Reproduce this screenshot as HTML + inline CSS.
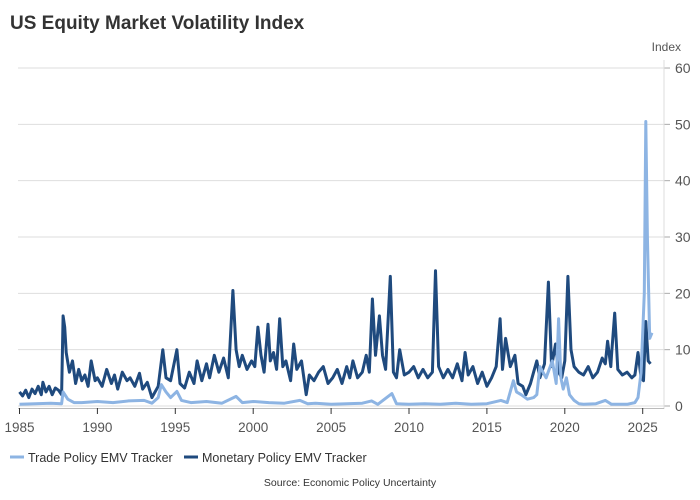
<!DOCTYPE html>
<html><head><meta charset="utf-8">
<style>
body{margin:0;background:#fff;font-family:"Liberation Sans",sans-serif;}
#wrap{position:relative;width:700px;height:500px;overflow:hidden;}
</style></head>
<body>
<div id="wrap">
<svg id="chart" width="700" height="500">
<text x="10" y="29" font-size="19" font-weight="bold" fill="#333">US Equity Market Volatility Index</text>
<text x="681" y="51" font-size="12" fill="#555" text-anchor="end">Index</text>
<g id="grid"></g><g id="axes"></g><g id="series"></g>
<g>
<g><line x1="10" y1="457" x2="24" y2="457" stroke="#8db4e3" stroke-width="3"/><text x="28" y="462" font-size="12.5" fill="#333">Trade Policy EMV Tracker</text></g>
<g><line x1="184" y1="457" x2="198" y2="457" stroke="#1f4a7e" stroke-width="3"/><text x="202" y="462" font-size="12.5" fill="#333">Monetary Policy EMV Tracker</text></g>
</g>
<text x="350" y="486" font-size="10.5" fill="#333" text-anchor="middle">Source: Economic Policy Uncertainty</text>
</svg>
</div>
<script>
const yTicks=[0,10,20,30,40,50,60];
const xTicks=[1985,1990,1995,2000,2005,2010,2015,2020,2025];
const monetaryDates=[1985,1985.2,1985.4,1985.6,1985.8,1986,1986.2,1986.4,1986.5,1986.7,1986.9,1987.1,1987.3,1987.5,1987.7,1987.8,1987.9,1988.0,1988.2,1988.4,1988.6,1988.8,1989,1989.2,1989.4,1989.6,1989.85,1990.0,1990.3,1990.6,1990.9,1991.1,1991.3,1991.6,1991.9,1992.1,1992.4,1992.7,1992.9,1993.2,1993.5,1993.9,1994.2,1994.4,1994.7,1995.1,1995.3,1995.6,1995.9,1996.2,1996.4,1996.7,1997,1997.2,1997.5,1997.8,1998.1,1998.4,1998.7,1998.9,1999.1,1999.3,1999.6,1999.9,2000.1,2000.3,2000.5,2000.7,2000.95,2001.1,2001.3,2001.5,2001.7,2001.9,2002.1,2002.4,2002.6,2002.8,2003.1,2003.4,2003.6,2003.9,2004.2,2004.5,2004.8,2005.1,2005.4,2005.7,2006,2006.2,2006.4,2006.7,2007,2007.25,2007.45,2007.65,2007.85,2008.1,2008.3,2008.5,2008.8,2009.0,2009.2,2009.4,2009.7,2010,2010.3,2010.6,2010.9,2011.2,2011.5,2011.7,2011.9,2012.2,2012.5,2012.8,2013.1,2013.4,2013.6,2013.8,2014.1,2014.4,2014.7,2015,2015.3,2015.6,2015.85,2016.0,2016.2,2016.5,2016.8,2017.0,2017.3,2017.5,2017.8,2018.0,2018.2,2018.4,2018.7,2018.95,2019.15,2019.4,2019.6,2019.8,2020.0,2020.2,2020.4,2020.6,2020.9,2021.2,2021.5,2021.8,2022.1,2022.4,2022.6,2022.75,2022.95,2023.0,2023.2,2023.4,2023.7,2024,2024.3,2024.5,2024.7,2024.9,2025.05,2025.2,2025.35,2025.5,2025.6];
const monetaryValues=[2.5,1.8,2.8,1.5,3,2.2,3.5,2,4.2,2.5,3.5,2,3.2,2.8,2,16,14,9.5,6,8,4,6.5,4.5,5.5,3.5,8,4.5,5,3.5,6.5,4,5.5,3,6,4.5,5,3.5,5.8,3,4.2,1.5,3.5,10,5,4.5,10,4,3.2,6,4,8,4.5,7.5,5,9,6,8.5,5,20.5,10,7,9,6.5,8,7,14,9,6,14.5,8,9.5,6.5,15.5,7,8,4.5,11,6.5,8,2,5.5,4.5,6,7,4,5,6.5,4,7,5,8,5,6,9,6,19,9,16,9,6.5,23,6,5,10,5.5,6,7,5,6.5,5,6,24,7,5,6.5,5,7.5,4.5,9.5,5.5,7,4,6,3.5,5,7,15.5,6.5,12,7,9,4,3.5,2,4,6,8,5,7.5,22,7,11,6,5,8,23,10,7,6,5.5,7,5,6,8.5,7.5,11.5,7,9,16.5,6.5,5.5,6,5,5.5,9.5,5,4.5,15,8,7.5];
const tradeDates=[1985,1986,1987,1987.7,1987.8,1988.1,1988.5,1989,1990,1991,1992,1993,1993.5,1993.9,1994.1,1994.4,1994.7,1995.1,1995.4,1996,1997,1998,1998.9,1999.3,2000,2001,2002,2003,2003.5,2004,2005,2006,2007,2007.6,2008,2008.9,2009.2,2010,2011,2012,2013,2014,2015,2015.9,2016.3,2016.7,2016.9,2017.2,2017.6,2018,2018.2,2018.4,2018.8,2019.2,2019.45,2019.6,2019.75,2019.9,2020.1,2020.3,2020.6,2020.9,2021.2,2022,2022.6,2023,2023.5,2024,2024.5,2024.7,2024.9,2025.1,2025.2,2025.3,2025.45,2025.6];
const tradeValues=[0.3,0.4,0.5,0.4,2.5,1.2,0.6,0.6,0.8,0.6,0.9,1,0.5,1.5,3.8,2.5,1.5,2.6,1,0.6,0.8,0.5,1.7,0.6,0.8,0.6,0.5,1,0.4,0.5,0.3,0.4,0.5,0.9,0.3,2.2,0.4,0.3,0.4,0.3,0.5,0.3,0.4,1,0.6,4.5,2.5,2,1.2,1.5,2,7,5,8,4,15.5,5,3,5,2,1,0.4,0.3,0.4,1,0.3,0.3,0.3,0.6,1.5,6,20,50.5,30,12,13];
const x0=19.5, pxYear=15.58, y0=406, pxUnit=5.633;
const xs=d=>x0+(d-1985)*pxYear, ys=v=>y0-v*pxUnit;
const NS='http://www.w3.org/2000/svg';
const grid=document.getElementById('grid'), axes=document.getElementById('axes'), series=document.getElementById('series');
yTicks.forEach(t=>{
  const l=document.createElementNS(NS,'line');
  l.setAttribute('x1',18);l.setAttribute('x2',664);l.setAttribute('y1',ys(t));l.setAttribute('y2',ys(t));
  l.setAttribute('stroke','#dedede');l.setAttribute('stroke-width',1);
  
  
  grid.appendChild(l);
  const tk=document.createElementNS(NS,'line');
  tk.setAttribute('x1',664);tk.setAttribute('x2',670);tk.setAttribute('y1',ys(t));tk.setAttribute('y2',ys(t));
  tk.setAttribute('stroke','#aaa');grid.appendChild(tk);
  const tx=document.createElementNS(NS,'text');
  tx.setAttribute('x',675);tx.setAttribute('y',ys(t)+5);tx.setAttribute('text-anchor','start');
  tx.setAttribute('font-size','14');tx.setAttribute('fill','#555');tx.textContent=t;
  
  
  axes.appendChild(tx);
});
const ra=document.createElementNS(NS,'line');
ra.setAttribute('x1',664);ra.setAttribute('x2',664);ra.setAttribute('y1',60);ra.setAttribute('y2',409);ra.setAttribute('stroke','#dedede');


axes.appendChild(ra);
const xa=document.createElementNS(NS,'line');
xa.setAttribute('x1',18);xa.setAttribute('x2',664);xa.setAttribute('y1',408.5);xa.setAttribute('y2',408.5);xa.setAttribute('stroke','#bbb');


axes.appendChild(xa);
xTicks.forEach(t=>{
  const tk=document.createElementNS(NS,'line');
  tk.setAttribute('x1',xs(t));tk.setAttribute('x2',xs(t));tk.setAttribute('y1',408);tk.setAttribute('y2',414);tk.setAttribute('stroke','#333');
  
  
  axes.appendChild(tk);
  const tx=document.createElementNS(NS,'text');
  tx.setAttribute('x',xs(t));tx.setAttribute('y',432);tx.setAttribute('text-anchor','middle');
  tx.setAttribute('font-size','13.5');tx.setAttribute('fill','#555');tx.textContent=t;
  
  
  axes.appendChild(tx);
});
function draw(dates,vals,color,name){
  const p=document.createElementNS(NS,'path');
  p.setAttribute('d',dates.map((d,i)=>(i?'L':'M')+xs(d).toFixed(1)+' '+ys(vals[i]).toFixed(1)).join(''));
  p.setAttribute('fill','none');p.setAttribute('stroke',color);p.setAttribute('stroke-width',3);p.setAttribute('stroke-linejoin','round');
  
  
  series.appendChild(p);
}
draw(monetaryDates,monetaryValues,'#1f4a7e','monetary-policy-line');
draw(tradeDates,tradeValues,'#8db4e3','trade-policy-line');
</script>
</body></html>
